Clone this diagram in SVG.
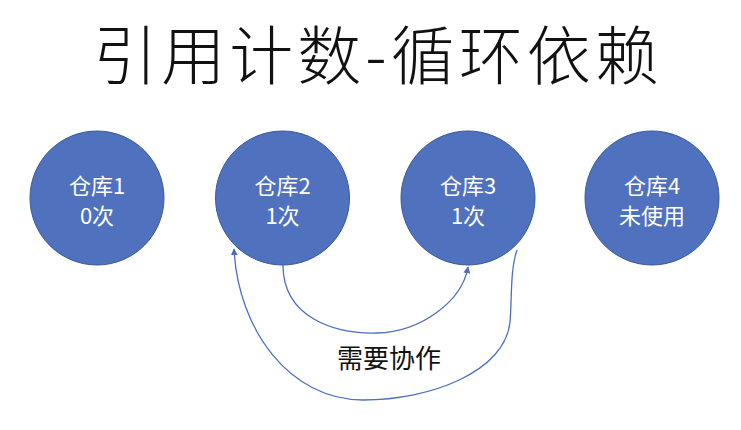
<svg xmlns="http://www.w3.org/2000/svg" width="741" height="430" viewBox="0 0 741 430">
<style>
.node circle{fill:#4F71BE;stroke:#3A5A9A;stroke-width:1}
.node text{fill:#fff;font-family:"Noto Sans CJK SC","Liberation Sans",sans-serif;font-size:22px;text-anchor:middle}
.conn path{fill:none;stroke:#4A6FBF;stroke-width:1.3}
.title{font-family:"Noto Sans CJK SC",sans-serif;font-size:64px;font-weight:300;text-anchor:middle;fill:#111}
.label{font-family:"Noto Sans CJK SC",sans-serif;font-size:26px;text-anchor:middle;fill:#111}
</style>
<defs>
<marker id="ah" viewBox="0 0 10 10" refX="9" refY="5" markerWidth="7" markerHeight="7" orient="auto" markerUnits="userSpaceOnUse">
<path d="M0,0 L10,5 L0,10 z" fill="#4A6FBF"/>
</marker>
</defs>
<rect width="741" height="430" fill="#fff"/>
<text class="title" x="378" y="79" letter-spacing="4">引用计数-循环依赖</text>
<g id="node1" class="node"><circle cx="97" cy="198" r="67"/><text x="97" y="194">仓库1</text><text x="97" y="224">0次</text></g>
<g id="node2" class="node"><circle cx="282.5" cy="198" r="67"/><text x="282.5" y="194">仓库2</text><text x="282.5" y="224">1次</text></g>
<g id="node3" class="node"><circle cx="468" cy="198" r="67"/><text x="468" y="194">仓库3</text><text x="468" y="224">1次</text></g>
<g id="node4" class="node"><circle cx="652" cy="198" r="67"/><text x="652" y="194">仓库4</text><text x="652" y="224">未使用</text></g>
<g id="connectors" class="conn">
<path d="M283,265 C283,318 335,334 377,333 C420,332 462,302 468,267" marker-end="url(#ah)"/>
<path d="M517,250 C510,270 512,300 510,322 C505,372 430,400 363,400 C290,400 238,330 234,249" marker-end="url(#ah)"/>
</g>
<text class="label" x="389" y="368">需要协作</text>
</svg>
